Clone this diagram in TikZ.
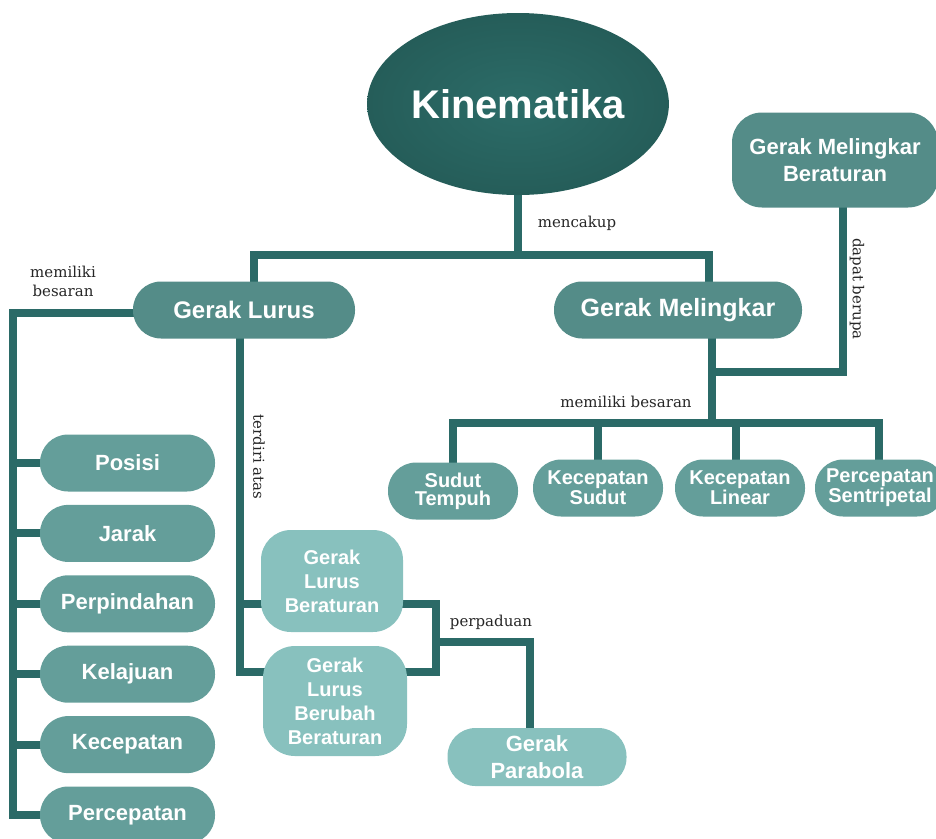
\documentclass[tikz,border=0pt]{standalone}
\usepackage{fontspec}
\setmainfont{Liberation Sans}
\newfontfamily\labelfont{DejaVu Serif}
\usetikzlibrary{shapes.geometric}
\definecolor{lineC}{HTML}{2B6A67}
\definecolor{kinIn}{HTML}{2C6C68}
\definecolor{kinOut}{HTML}{255D59}
\definecolor{midC}{HTML}{548C88}
\definecolor{itemC}{HTML}{649E9A}
\definecolor{lightC}{HTML}{88C1BE}
\pgfdeclarelayer{bg}
\pgfsetlayers{bg,main}
\newcommand{\fs}[2]{\fontsize{#1}{#2}\selectfont}
\tikzset{
	link/.style={line width=8pt, draw=lineC},
	pill/.style={fill=#1, text=white, align=center, inner sep=0pt, rounded corners=28pt, minimum height=57pt},
	lbl/.style={font=\labelfont\fs{15}{19}, text=black!85, align=center, inner sep=0pt}
}

\begin{document}
\begin{tikzpicture}[x=1pt, y=-1pt]
	\useasboundingbox (0,0) rectangle (936,838);
	\node[ellipse, minimum width=290pt, minimum height=182pt, inner sep=0pt, inner color=kinIn, outer color=kinOut, text=white, font=\bfseries\fs{40}{40}](kin) at (518,104){Kinematika};
	\node[pill=midC, minimum width=222pt, font=\bfseries\fs{24}{24}](gl) at (244,310){Gerak Lurus};
	\node[pill=midC, minimum width=248pt, font=\bfseries\fs{25}{25}](gm) at (678,310){Gerak Melingkar};
	\node[pill=midC, minimum width=206pt, minimum height=95pt, rounded corners=30pt, font=\bfseries\fs{22}{27}](gmb) at (835,160){Gerak Melingkar\\Beraturan};
	\foreach \t [count=\i] in {Posisi, Jarak, Perpindahan, Kelajuan, Kecepatan, Percepatan}
		\node[pill=itemC, minimum width=175pt, font=\bfseries\fs{22}{22}](p\i) at (127.5, 392.6+70.4*\i){\t};
	\node[pill=itemC, minimum width=130pt, font=\bfseries\fs{20}{18}](s1) at (453,491){Sudut\\Tempuh};
	\node[pill=itemC, minimum width=130pt, font=\bfseries\fs{20}{18}](s2) at (598,488){Kecepatan\\Sudut};
	\node[pill=itemC, minimum width=130pt, font=\bfseries\fs{20}{18}](s3) at (740,488){Kecepatan\\Linear};
	\node[pill=itemC, minimum width=130pt, font=\bfseries\fs{20}{18}](s4) at (880,488){Percepatan\\Sentripetal};
	\node[pill=lightC, minimum width=142pt, minimum height=102pt, rounded corners=30pt, font=\bfseries\fs{20}{24}](glb) at (332,581){Gerak\\Lurus\\Beraturan};
	\node[pill=lightC, minimum width=144pt, minimum height=110pt, rounded corners=32pt, font=\bfseries\fs{20}{24}](glbb) at (335,701){Gerak\\Lurus\\Berubah\\Beraturan};
	\node[pill=lightC, minimum width=179pt, minimum height=58pt, font=\bfseries\fs{22}{27}](gpar) at (537,757){Gerak\\Parabola};
	\node[lbl](l1) at (577,223){mencakup};
	\node[lbl](l2) at (63,281){memiliki\\besaran};
	\node[lbl, rotate=-90](l3) at (857,289){dapat berupa};
	\node[lbl, rotate=-90](l4) at (259,457){terdiri atas};
	\node[lbl](l5) at (626,402){memiliki besaran};
	\node[lbl](l6) at (491,622){perpaduan};
	\coordinate (top) at (518,255);
	\coordinate (bm) at (712,423);
	\coordinate (gmj) at (708,372);
	\coordinate (mix) at (436,642);
	\begin{pgfonlayer}{bg}
		\draw[link](kin) -- (top);
		\draw[link]([xshift=10pt, yshift=-10pt]gl.north) |- (top) -| ([xshift=31pt, yshift=-10pt]gm.north);
		\draw[link]([xshift=10pt, yshift=-3pt]gl.west) -| ([xshift=-27pt]p6.west) -- ([xshift=10pt]p6.west);
		\foreach \i in {1,...,5}
			\draw[link]([xshift=10pt]p\i.west) -- ++(-37,0);
		\draw[link]([xshift=-4pt, yshift=10pt]gl.south) |- ([xshift=10pt, yshift=29pt]glbb.west);
		\draw[link]([xshift=10pt, yshift=-23pt]glb.west) -- ++(-31,0);
		\draw[link]([xshift=-10pt, yshift=-23pt]glb.east) -| (mix) |- ([xshift=-10pt, yshift=29pt]glbb.east);
		\draw[link](mix) -| ([xshift=-7pt, yshift=-10pt]gpar.north);
		\draw[link]([xshift=34pt, yshift=10pt]gm.south) -- (bm);
		\draw[link]([yshift=-10pt]s1.north) |- (bm) -| ([xshift=-1pt, yshift=-10pt]s4.north);
		\draw[link]([yshift=-10pt]s2.north) -- (s2.north |- bm);
		\draw[link]([xshift=-4pt, yshift=-10pt]s3.north) -- ([xshift=-4pt]s3.north |- bm);
		\draw[link]([xshift=8pt, yshift=10pt]gmb.south) |- (gmj);
	\end{pgfonlayer}
\end{tikzpicture}
\end{document}
